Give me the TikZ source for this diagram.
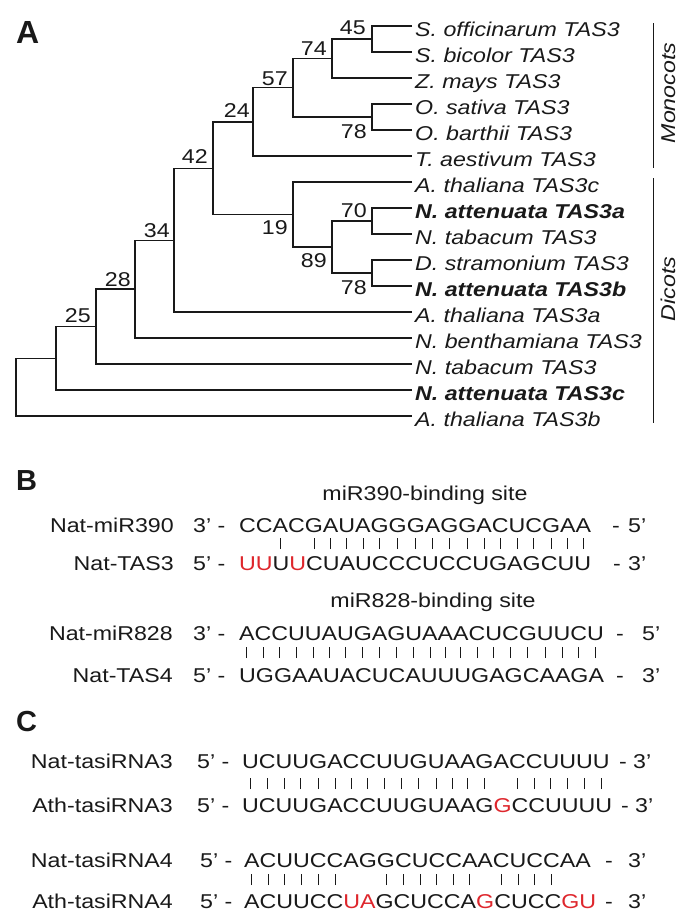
\documentclass[tikz,border=0pt]{standalone}
\usepackage{fontspec}
\setmainfont{Liberation Sans}[FakeStretch=1.16]
\newfontfamily\panelfont{Liberation Sans}
\definecolor{tred}{RGB}{222,38,44}
\definecolor{ink}{RGB}{25,25,25}
\newcommand\txtsz{\fontsize{20}{24}\selectfont}
% one slot as wide as a letter, holding a pairing bar or nothing
\newcommand\barbox[2]{\setbox0=\hbox{#1}\hbox to \wd0{\hss\ifnum#2=1 \rule{0.9pt}{11pt}\fi\hss}}
\def\barseq#1#2{\ifx#1.\else\barbox{#1}{#2}\expandafter\barseq\fi}
\begin{document}
\begin{tikzpicture}[x=1pt,y=-1pt,
  branch/.style={draw=ink, line width=1.2pt},
  bracketline/.style={draw=ink, line width=1pt},
  leaf/.style={anchor=base west, inner sep=0pt, font=\itshape\txtsz, text=ink},
  leafbold/.style={leaf, font=\bfseries\itshape\txtsz},
  boot/.style={anchor=base east, inner sep=0pt, font=\txtsz, text=ink},
  clade/.style={rotate=90, anchor=base, inner sep=0pt, font=\itshape\txtsz, text=ink},
  panel/.style={anchor=base west, inner sep=0pt, font=\panelfont\bfseries, text=ink},
  rowlab/.style={anchor=base east, inner sep=0pt, font=\txtsz, text=ink},
  plain/.style={anchor=base west, inner sep=0pt, font=\txtsz, text=ink},
  bars/.style={anchor=base west, inner sep=0pt, font=\txtsz, text=ink},
  dashtxt/.style={anchor=base, inner sep=0pt, font=\txtsz, text=ink},
  title/.style={anchor=base, inner sep=0pt, font=\txtsz, text=ink}]
\useasboundingbox (0,0) rectangle (685,924);

% ---------------- Panel A ----------------
\node[panel, font=\panelfont\bfseries\fontsize{32}{36}\selectfont] (pA) at (16,43) {A};

% leaf ends
\foreach \i in {1,...,16} { \coordinate (l\i) at (412,26*\i); }

% internal nodes
\coordinate (n45) at (372,39);
\coordinate (n74) at (332,58.5);
\coordinate (n78a) at (372,117);
\coordinate (n57) at (293,87.75);
\coordinate (n24) at (253,121.9);
\coordinate (n70) at (372,221);
\coordinate (n78b) at (372,273);
\coordinate (n89) at (332,247);
\coordinate (n19) at (293,214.5);
\coordinate (n42) at (213,168.2);
\coordinate (n34) at (174,240.1);
\coordinate (n28) at (135,289);
\coordinate (n25) at (96,326.5);
\coordinate (nr1) at (56,358.3);
\coordinate (nr0) at (16,387.2);

\draw[branch] (l1) -| (n45) |- (l2);
\draw[branch] (n45) -| (n74) |- (l3);
\draw[branch] (l4) -| (n78a) |- (l5);
\draw[branch] (n74) -| (n57) |- (n78a);
\draw[branch] (n57) -| (n24) |- (l6);
\draw[branch] (l8) -| (n70) |- (l9);
\draw[branch] (l10) -| (n78b) |- (l11);
\draw[branch] (n70) -| (n89) |- (n78b);
\draw[branch] (l7) -| (n19) |- (n89);
\draw[branch] (n24) -| (n42) |- (n19);
\draw[branch] (n42) -| (n34) |- (l12);
\draw[branch] (n34) -| (n28) |- (l13);
\draw[branch] (n28) -| (n25) |- (l14);
\draw[branch] (n25) -| (nr1) |- (l15);
\draw[branch] (nr1) -| (nr0) |- (l16);

% bootstrap values
\node[boot] (b45) at (366,34.5) {45};
\node[boot] (b74) at (327,55) {74};
\node[boot] (b57) at (288,85) {57};
\node[boot] (b24) at (250,117) {24};
\node[boot] (b42) at (208,163) {42};
\node[boot] (b78a) at (367,138.5) {78};
\node[boot] (b19) at (288,234.5) {19};
\node[boot] (b89) at (327,267.5) {89};
\node[boot] (b70) at (367,217) {70};
\node[boot] (b78b) at (367,294) {78};
\node[boot] (b34) at (170,237) {34};
\node[boot] (b28) at (131,286) {28};
\node[boot] (b25) at (91,322) {25};

% leaf labels
\node[leaf] (t1) at (415,36.5) {S. officinarum TAS3};
\node[leaf] (t2) at (415,62.5) {S. bicolor TAS3};
\node[leaf] (t3) at (415,88.5) {Z. mays TAS3};
\node[leaf] (t4) at (415,114.5) {O. sativa TAS3};
\node[leaf] (t5) at (415,140.5) {O. barthii TAS3};
\node[leaf] (t6) at (415,166.5) {T. aestivum TAS3};
\node[leaf] (t7) at (415,192.5) {A. thaliana TAS3c};
\node[leafbold] (t8) at (415,218.5) {N. attenuata TAS3a};
\node[leaf] (t9) at (415,244.5) {N. tabacum TAS3};
\node[leaf] (t10) at (415,270.5) {D. stramonium TAS3};
\node[leafbold] (t11) at (415,296.5) {N. attenuata TAS3b};
\node[leaf] (t12) at (415,322.5) {A. thaliana TAS3a};
\node[leaf] (t13) at (415,348.5) {N. benthamiana TAS3};
\node[leaf] (t14) at (415,374.5) {N. tabacum TAS3};
\node[leafbold] (t15) at (415,400.5) {N. attenuata TAS3c};
\node[leaf] (t16) at (415,426.5) {A. thaliana TAS3b};

% clade brackets
\coordinate (mtop) at (653,23);
\coordinate (mbot) at (653,168);
\coordinate (dtop) at (653,178);
\coordinate (dbot) at (653,423);
\draw[bracketline] (mtop) -- (mbot);
\draw[bracketline] (dtop) -- (dbot);
\node[clade] (mono) at (675,93) {Monocots};
\node[clade] (dico) at (675,289) {Dicots};

% ---------------- Panel B ----------------
\node[panel, font=\panelfont\bfseries\fontsize{29}{32}\selectfont] (pB) at (16,490) {B};

\node[title] (ttl390) at (425,500) {miR390-binding site};
\node[rowlab] (lB1) at (174,532) {Nat-miR390};
\node[plain] (eB1) at (193,532) {3’ -};
\node[plain] (sB1) at (239,532) {CCACGAUAGGGAGGACUCGAA};
\node[dashtxt] (dB1) at (616,532) {-};
\node[plain] (pB1) at (628,532) {5’};

\node[bars] (bB1) at (239,549) {\barseq C0C0A1C0G1A1U1A1G1G1G1A1G1G1A1C1U1C1G1A1A1..};

\node[rowlab] (lB2) at (174,570) {Nat-TAS3};
\node[plain] (eB2) at (193,570) {5’ -};
\node[plain] (sB2) at (239,570) {\textcolor{tred}{UU}U\textcolor{tred}{U}CUAUCCCUCCUGAGCUU};
\node[dashtxt] (dB2) at (617,570) {-};
\node[plain] (pB2) at (628,570) {3’};

\node[title] (ttl828) at (433,607) {miR828-binding site};
\node[rowlab] (lB3) at (173,640) {Nat-miR828};
\node[plain] (eB3) at (193,640) {3’ -};
\node[plain] (sB3) at (239,640) {ACCUUAUGAGUAAACUCGUUCU};
\node[dashtxt] (dB3) at (620,640) {-};
\node[plain] (pB3) at (642,640) {5’};

\node[bars] (bB3) at (239,658) {\barseq A1C1C1U1U1A1U1G1A1G1U1A1A1A1C1U1C1G1U1U1C1U1..};

\node[rowlab] (lB4) at (173,682) {Nat-TAS4};
\node[plain] (eB4) at (193,682) {5’ -};
\node[plain] (sB4) at (239,682) {UGGAAUACUCAUUUGAGCAAGA};
\node[dashtxt] (dB4) at (620,682) {-};
\node[plain] (pB4) at (642,682) {3’};

% ---------------- Panel C ----------------
\node[panel, font=\panelfont\bfseries\fontsize{29}{32}\selectfont] (pC) at (16,731) {C};

\node[rowlab] (lC1) at (173,768) {Nat-tasiRNA3};
\node[plain] (eC1) at (197,768) {5’ -};
\node[plain] (sC1) at (242,768) {UCUUGACCUUGUAAGACCUUUU};
\node[dashtxt] (dC1) at (623,768) {-};
\node[plain] (pC1) at (633,768) {3’};

\node[bars] (bC1) at (242,789) {\barseq U1C1U1U1G1A1C1C1U1U1G1U1A1A1G1A0C1C1U1U1U1U1..};

\node[rowlab] (lC2) at (173,812) {Ath-tasiRNA3};
\node[plain] (eC2) at (197,812) {5’ -};
\node[plain] (sC2) at (242,812) {UCUUGACCUUGUAAG\textcolor{tred}{G}CCUUUU};
\node[dashtxt] (dC2) at (625,812) {-};
\node[plain] (pC2) at (635,812) {3’};

\node[rowlab] (lC3) at (173,867) {Nat-tasiRNA4};
\node[plain] (eC3) at (200,867) {5’ -};
\node[plain] (sC3) at (244,867) {ACUUCCAGGCUCCAACUCCAA};
\node[dashtxt] (dC3) at (609,867) {-};
\node[plain] (pC3) at (628,867) {3’};

\node[bars] (bC3) at (244,885) {\barseq A1C1U1U1C1C1A0G0G1C1U1C1C1A1A0C1U1C1C1A0A0..};

\node[rowlab] (lC4) at (173,908) {Ath-tasiRNA4};
\node[plain] (eC4) at (200,908) {5’ -};
\node[plain] (sC4) at (244,908) {ACUUCC\textcolor{tred}{UA}GCUCCA\textcolor{tred}{G}CUCC\textcolor{tred}{GU}};
\node[dashtxt] (dC4) at (609,908) {-};
\node[plain] (pC4) at (628,908) {3’};
\end{tikzpicture}
\end{document}
